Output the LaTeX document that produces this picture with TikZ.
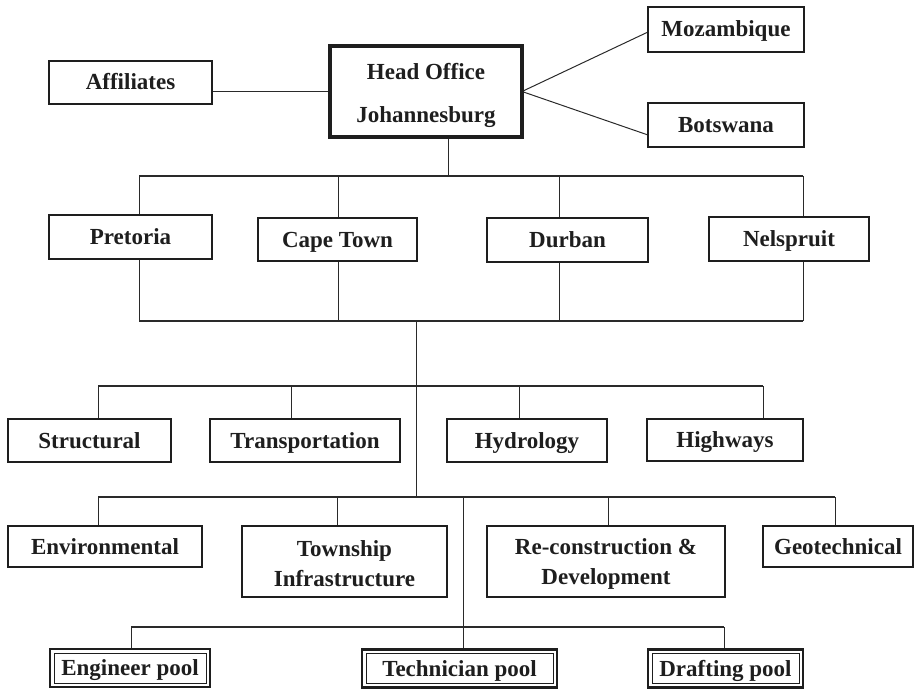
\documentclass[tikz,border=0pt]{standalone}
\usepackage{fontspec}
\setmainfont{Liberation Serif}
\usetikzlibrary{backgrounds}
\definecolor{ink}{HTML}{1E1E1E}
\definecolor{wire}{HTML}{2A2A2A}
\begin{document}
\begin{tikzpicture}[x=1pt,y=-1pt,
  frame/.style={draw=ink, line width=2.3pt, fill=white, inner sep=0pt, outer sep=0pt,
    font=\fontsize{23}{30}\selectfont\bfseries, text=ink, align=center},
  box/.style={frame, text height=17pt, text depth=2pt},
  pool/.style={box, line width=2.4pt,
    path picture={\draw[draw=ink, line width=0.8pt]
      ([shift={(4pt,-4pt)}]path picture bounding box.north west) rectangle
      ([shift={(-4pt,4pt)}]path picture bounding box.south east);}},
  sz/.style 2 args={minimum width=#1pt, minimum height=#2pt},
  link/.style={draw=wire, line width=1pt},
  bus/.style={draw=wire, line width=1.7pt}]
\useasboundingbox (0,0) rectangle (916,690);

% ---- head office and its neighbours
\node[frame, line width=4.5pt, sz={192}{91}, font=\fontsize{23}{43}\selectfont\bfseries] (ho) at (426,91.5)
  {\rule{0pt}{24pt}Head Office\\Johannesburg};
\node[box, sz={163}{43}] (aff) at (130.5,82.5) {Affiliates};
\node[box, sz={156}{45}] (moz) at (726,29.5) {Mozambique};
\node[box, sz={156}{44}] (bot) at (726,125) {Botswana};

% ---- regional offices
\node[box, sz={163}{44}] (pre) at (130.5,237) {Pretoria};
\node[box, sz={159}{43}] (cpt) at (337.5,239.5) {Cape Town};
\node[box, sz={161}{44}] (dbn) at (567.5,240) {Durban};
\node[box, sz={160}{44}] (nel) at (789,239) {Nelspruit};

% ---- first row of disciplines
\node[box, sz={163}{43}] (str) at (89.5,440.5) {Structural};
\node[box, sz={190}{43}] (trn) at (305,440.5) {Transportation};
\node[box, sz={160}{43}] (hyd) at (527,440.5) {Hydrology};
\node[box, sz={156}{42}] (hwy) at (725,440) {Highways};

% ---- second row of disciplines
\node[box, sz={194}{41}] (env) at (105,546.5) {Environmental};
\node[frame, sz={205}{71}] (tsh) at (344.5,561.5) {\rule{0pt}{20pt}Township\\Infrastructure};
\node[frame, sz={238}{71}] (rcd) at (606,561.5) {\rule{0pt}{20pt}Re-construction \&\\Development};
\node[box, sz={150}{41}] (geo) at (838,546.5) {Geotechnical};

% ---- staff pools
\node[pool, sz={160}{38}] (eng) at (130,668) {Engineer pool};
\node[pool, sz={195}{38}] (tec) at (459.5,668.5) {Technician pool};
\node[pool, sz={155}{38}] (dft) at (725.5,668.5) {Drafting pool};

\begin{scope}[on background layer]
  % links of the head office
  \draw[link] (ho.west) -- (aff.east |- ho.west);
  \draw[link] (ho.east) -- ([yshift=-2.5pt]moz.west);
  \draw[link] (ho.east) -- ([yshift=-10pt]bot.west);

  % bus to the regional offices
  \coordinate (b1w) at (139,176);
  \coordinate (b1e) at (803,176);
  \coordinate (b2w) at (139,321);
  \coordinate (b2e) at (803,321);
  \coordinate (hoDrop) at (448,176);
  \draw[link] (hoDrop |- ho.south) -- (hoDrop);
  \draw[bus] (b1w) -- (b1e);
  \draw[bus] (b2w) -- (b2e);
  \coordinate (dPre) at (139,176);
  \coordinate (dCpt) at (338,176);
  \coordinate (dDbn) at (559,176);
  \coordinate (dNel) at (803,176);
  \foreach \d in {dPre,dCpt,dDbn,dNel}
    \draw[link] (\d) -- (\d |- b2w);

  % trunk down to the disciplines
  \coordinate (t1) at (416,321);
  \coordinate (b3w) at (98,386);
  \coordinate (b3e) at (763,386);
  \coordinate (b4w) at (98,497);
  \coordinate (b4e) at (835,497);
  \draw[link] (t1) -- (t1 |- b4w);
  \draw[bus] (b3w) -- (b3e);
  \coordinate (dStr) at (98,386);
  \coordinate (dTrn) at (291,386);
  \coordinate (dHyd) at (519,386);
  \coordinate (dHwy) at (763,386);
  \draw[link] (dStr) -- (dStr |- str.north);
  \draw[link] (dTrn) -- (dTrn |- trn.north);
  \draw[link] (dHyd) -- (dHyd |- hyd.north);
  \draw[link] (dHwy) -- (dHwy |- hwy.north);

  \draw[bus] (b4w) -- (b4e);
  \coordinate (dEnv) at (98,497);
  \coordinate (dTsh) at (337,497);
  \coordinate (dRcd) at (608,497);
  \coordinate (dGeo) at (835,497);
  \draw[link] (dEnv) -- (dEnv |- env.north);
  \draw[link] (dTsh) -- (dTsh |- tsh.north);
  \draw[link] (dRcd) -- (dRcd |- rcd.north);
  \draw[link] (dGeo) -- (dGeo |- geo.north);

  % trunk down to the staff pools
  \coordinate (t2) at (463,497);
  \coordinate (b5w) at (131,627);
  \coordinate (b5e) at (724,627);
  \draw[link] (t2) -- (t2 |- tec.north);
  \draw[bus] (b5w) -- (b5e);
  \draw[link] (b5w) -- (b5w |- eng.north);
  \draw[link] (b5e) -- (b5e |- dft.north);
\end{scope}
\end{tikzpicture}
\end{document}
